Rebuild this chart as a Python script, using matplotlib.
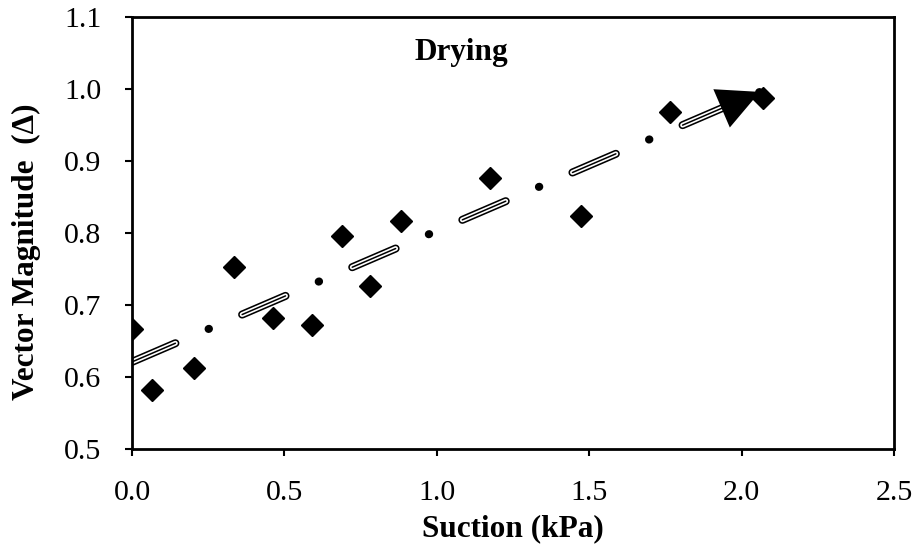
import matplotlib
matplotlib.use("Agg")
import matplotlib.pyplot as plt

plt.rcParams['font.family'] = ['Liberation Serif', 'DejaVu Serif']
plt.rcParams['lines.scale_dashes'] = False

# Data
suction = [0.0, 0.066, 0.203, 0.333, 0.463, 0.589, 0.689, 0.781, 0.883, 1.175, 1.473, 1.765, 2.070]
magnitude = [0.667, 0.582, 0.613, 0.753, 0.682, 0.672, 0.796, 0.726, 0.817, 0.876, 0.824, 0.968, 0.988]
trend_x = [0.0, 2.06]
trend_y = [0.621, 0.996]
x_ticks = [0.0, 0.5, 1.0, 1.5, 2.0, 2.5]
y_ticks = [0.5, 0.6, 0.7, 0.8, 0.9, 1.0, 1.1]
title = "Drying"
x_label = "Suction (kPa)"
y_label = "Vector Magnitude  (\u0394)"

fig = plt.figure(figsize=(9.2, 5.58), dpi=100)
ax = fig.add_axes([0.1435, 0.1953, 0.8282, 0.7742])

# Trend line: compound line (black outline, white, black core), dash-dot
ax.plot(trend_x, trend_y, color='black', lw=5.8, dashes=(34.0, 26.0, 0.3, 26.0),
        dash_capstyle='round', zorder=2)
ax.plot(trend_x, trend_y, color='white', lw=3.5, dashes=(34.0, 52.3),
        dash_capstyle='round', zorder=2.1)
ax.plot(trend_x, trend_y, color='black', lw=1.1, dashes=(34.0, 52.3),
        dash_capstyle='round', zorder=2.15)
# Arrow head at end of trend line
ax.annotate('', xy=(trend_x[1], trend_y[1]),
            xytext=(trend_x[1] - 0.15 * (trend_x[1] - trend_x[0]), trend_y[1] - 0.15 * (trend_y[1] - trend_y[0])),
            arrowprops=dict(arrowstyle='-|>,head_length=3.0,head_width=1.5', color='black',
                            lw=0, shrinkA=0, shrinkB=0, mutation_scale=10), zorder=2.2)

ax.plot(suction, magnitude, linestyle='none', marker='D', ms=11, color='black', zorder=3)

ax.set_xlim(0, 2.5)
ax.set_ylim(0.5, 1.1)
ax.set_xticks(x_ticks)
ax.set_yticks(y_ticks)
ax.set_xticklabels([f"{v:.1f}" for v in x_ticks])
ax.set_yticklabels([f"{v:.1f}" for v in y_ticks])
ax.tick_params(direction='out', length=5, width=1.5, labelsize=21.5, pad=17)
for s in ax.spines.values():
    s.set_linewidth(2)

ax.set_xlabel(x_label, fontsize=22.5, fontweight='bold', labelpad=6)
ax.set_ylabel(y_label, fontsize=22.5, fontweight='bold')
ax.yaxis.set_label_coords(-0.12, 0.456)
ax.text(0.432, 0.919, title, transform=ax.transAxes, ha='center', va='center',
        fontsize=22.5, fontweight='bold')

fig.savefig('out.png', dpi=100)
